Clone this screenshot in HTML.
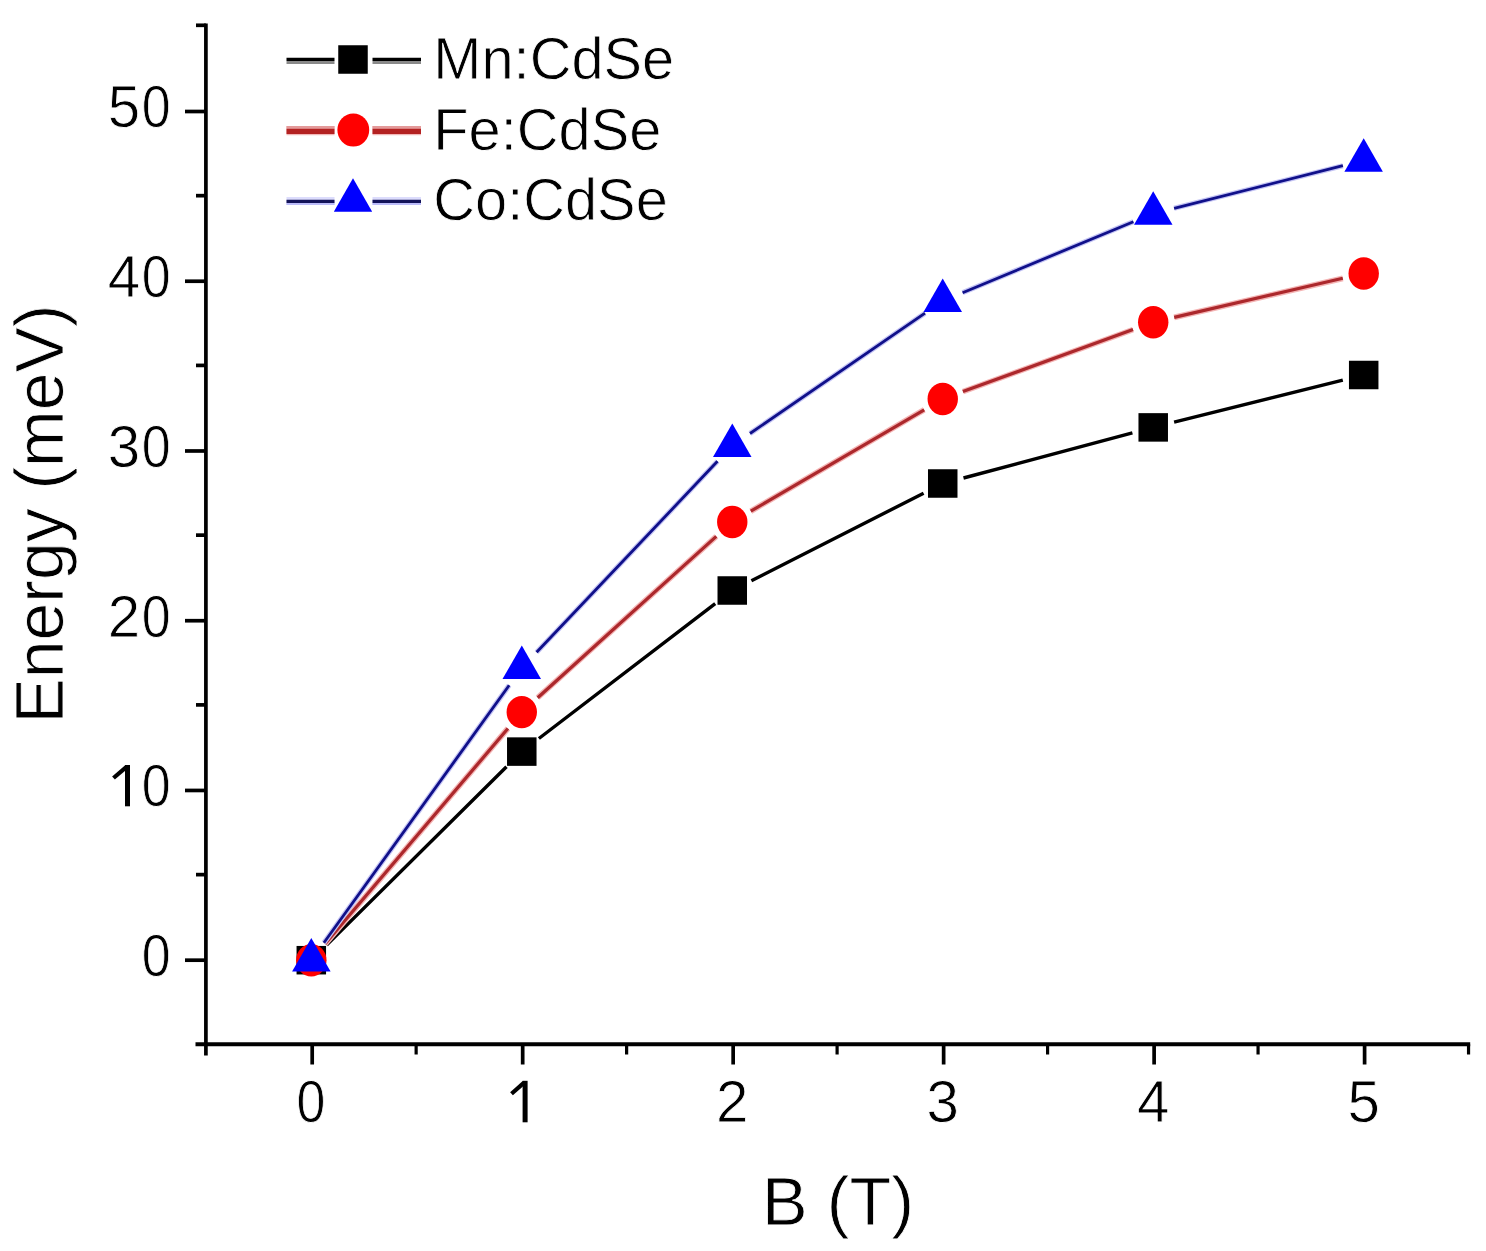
<!DOCTYPE html>
<html><head><meta charset="utf-8"><style>
html,body{margin:0;padding:0;background:#fff;}
svg{display:block;}
</style></head><body>
<svg width="1486" height="1251" viewBox="0 0 1486 1251">
<rect width="1486" height="1251" fill="#fff"/>
<g stroke="#000" stroke-width="3.70" fill="none" stroke-linecap="butt">
<path d="M205.90 23.4 L205.90 1055.5"/>
<path d="M195.5 1044.20 L1470.2 1044.20" stroke-width="4"/>
<path d="M185 960.20 L205.90 960.20"/>
<path d="M185 790.46 L205.90 790.46"/>
<path d="M185 620.72 L205.90 620.72"/>
<path d="M185 450.98 L205.90 450.98"/>
<path d="M185 281.24 L205.90 281.24"/>
<path d="M185 111.50 L205.90 111.50"/>
<path d="M196 874.63 L205.90 874.63"/>
<path d="M196 704.89 L205.90 704.89"/>
<path d="M196 535.15 L205.90 535.15"/>
<path d="M196 365.41 L205.90 365.41"/>
<path d="M196 195.67 L205.90 195.67"/>
<path d="M196 25.30 L205.90 25.30"/>
<path d="M312.20 1044.20 L312.20 1064.5"/>
<path d="M522.68 1044.20 L522.68 1064.5"/>
<path d="M733.16 1044.20 L733.16 1064.5"/>
<path d="M943.64 1044.20 L943.64 1064.5"/>
<path d="M1154.12 1044.20 L1154.12 1064.5"/>
<path d="M1364.60 1044.20 L1364.60 1064.5"/>
<path d="M416.14 1044.20 L416.14 1054.5" stroke-width="3.2"/>
<path d="M626.62 1044.20 L626.62 1054.5" stroke-width="3.2"/>
<path d="M837.10 1044.20 L837.10 1054.5" stroke-width="3.2"/>
<path d="M1047.58 1044.20 L1047.58 1054.5" stroke-width="3.2"/>
<path d="M1258.06 1044.20 L1258.06 1054.5" stroke-width="3.2"/>
<path d="M1468.54 1044.20 L1468.54 1054.5" stroke-width="3.2"/>
</g>
<g fill="none" stroke-linecap="butt">
<path d="M326.6 945.1 L506.5 766.7 M538.9 738.5 L715.2 603.6 M751.4 580.8 L923.6 493.2 M963.5 478.0 L1132.4 432.9 M1174.1 422.2 L1342.8 380.2" stroke="#000" stroke-width="3.4"/>
<path d="M325.2 943.8 L507.9 728.5 M537.7 697.7 L716.3 536.4 M750.8 511.2 L924.2 409.8 M962.9 391.6 L1133.0 329.6 M1174.2 317.4 L1342.8 278.3" stroke="#f4b4b4" stroke-width="5.8"/>
<path d="M325.2 943.8 L507.9 728.5 M537.7 697.7 L716.3 536.4 M750.8 511.2 L924.2 409.8 M962.9 391.6 L1133.0 329.6 M1174.2 317.4 L1342.8 278.3" stroke="#ac282c" stroke-width="3.2"/>
<path d="M323.9 942.8 L509.2 685.3 M536.6 652.3 L717.5 461.3 M750.0 433.5 L925.0 313.1 M962.6 292.7 L1133.4 221.7 M1174.1 208.3 L1342.9 165.7" stroke="#c4c4f4" stroke-width="5.2"/>
<path d="M323.9 942.8 L509.2 685.3 M536.6 652.3 L717.5 461.3 M750.0 433.5 L925.0 313.1 M962.6 292.7 L1133.4 221.7 M1174.1 208.3 L1342.9 165.7" stroke="#10108a" stroke-width="2.8"/>
</g>
<rect x="296.55" y="945.95" width="29.50" height="28.50" fill="#000"/>
<rect x="507.03" y="737.35" width="29.50" height="28.50" fill="#000"/>
<rect x="717.51" y="576.25" width="29.50" height="28.50" fill="#000"/>
<rect x="927.99" y="469.25" width="29.50" height="28.50" fill="#000"/>
<rect x="1138.47" y="413.15" width="29.50" height="28.50" fill="#000"/>
<rect x="1348.95" y="360.75" width="29.50" height="28.50" fill="#000"/>
<ellipse cx="311.30" cy="960.20" rx="15.20" ry="16.20" fill="#f00"/>
<ellipse cx="521.78" cy="712.10" rx="15.20" ry="16.20" fill="#f00"/>
<ellipse cx="732.26" cy="522.00" rx="15.20" ry="16.20" fill="#f00"/>
<ellipse cx="942.74" cy="399.00" rx="15.20" ry="16.20" fill="#f00"/>
<ellipse cx="1153.22" cy="322.20" rx="15.20" ry="16.20" fill="#f00"/>
<ellipse cx="1363.70" cy="273.50" rx="15.20" ry="16.20" fill="#f00"/>
<polygon points="311.3,937.9 292.1,971.4 330.6,971.4" fill="#00f"/>
<polygon points="521.8,645.6 502.5,679.1 541.0,679.1" fill="#00f"/>
<polygon points="732.3,423.4 713.0,456.9 751.5,456.9" fill="#00f"/>
<polygon points="942.7,278.6 923.5,312.1 962.0,312.1" fill="#00f"/>
<polygon points="1153.2,191.2 1134.0,224.7 1172.5,224.7" fill="#00f"/>
<polygon points="1363.7,138.2 1344.4,171.7 1382.9,171.7" fill="#00f"/>
<path d="M286.5 62.50 L334.5 62.50 M372.5 62.50 L421.0 62.50" stroke="#8a8a8a" stroke-width="3.00" fill="none"/>
<path d="M286.5 59.40 L334.5 59.40 M372.5 59.40 L421.0 59.40" stroke="#000" stroke-width="3.30" fill="none"/>
<path d="M286.5 130.60 L334.5 130.60 M372.5 130.60 L421.0 130.60" stroke="#f2b8b8" stroke-width="9.20" fill="none"/>
<path d="M286.5 127.40 L334.5 127.40 M372.5 127.40 L421.0 127.40" stroke="#e49a9a" stroke-width="2.80" fill="none"/>
<path d="M286.5 131.40 L334.5 131.40 M372.5 131.40 L421.0 131.40" stroke="#b42222" stroke-width="5.20" fill="none"/>
<path d="M286.5 201.00 L334.5 201.00 M372.5 201.00 L421.0 201.00" stroke="#dcdcfc" stroke-width="8.00" fill="none"/>
<path d="M286.5 204.00 L334.5 204.00 M372.5 204.00 L421.0 204.00" stroke="#bcbcfa" stroke-width="2.00" fill="none"/>
<path d="M286.5 201.30 L334.5 201.30 M372.5 201.30 L421.0 201.30" stroke="#14145a" stroke-width="3.30" fill="none"/>
<rect x="338.25" y="45.25" width="29.50" height="28.50" fill="#000"/>
<ellipse cx="353.30" cy="130.00" rx="15.90" ry="16.60" fill="#f00"/>
<polygon points="353.0,178.2 333.8,211.7 372.2,211.7" fill="#00f"/>
<g font-family="Liberation Sans, sans-serif" fill="#000" stroke="#fff" stroke-width="0.80">
<text transform="translate(433.30 78.60) scale(1.000 1.035)" font-size="57.80">Mn:CdSe</text>
<text transform="translate(433.30 149.60) scale(1.000 1.035)" font-size="57.80">Fe:CdSe</text>
<text transform="translate(433.30 220.40) scale(1.000 1.035)" font-size="57.80">Co:CdSe</text>
<text transform="translate(156.20 976.00) scale(0.890 1.000)" font-size="58.30" text-anchor="middle">0</text>
<text transform="translate(156.20 806.26) scale(0.890 1.000)" font-size="58.30" text-anchor="middle">0</text>
<rect x="125.0" y="765.0" width="5.0" height="41.3" fill="#000" stroke="none"/><path d="M126.5 766.8 L113.5 778.0" stroke="#000" stroke-width="4.2" fill="none"/>
<text transform="translate(156.20 636.52) scale(0.890 1.000)" font-size="58.30" text-anchor="middle">0</text>
<text x="107.80" y="636.52" font-size="58.30">2</text>
<text transform="translate(156.20 466.78) scale(0.890 1.000)" font-size="58.30" text-anchor="middle">0</text>
<text x="107.80" y="466.78" font-size="58.30">3</text>
<text transform="translate(156.20 297.04) scale(0.890 1.000)" font-size="58.30" text-anchor="middle">0</text>
<text x="107.80" y="297.04" font-size="58.30">4</text>
<text transform="translate(156.20 127.30) scale(0.890 1.000)" font-size="58.30" text-anchor="middle">0</text>
<text x="107.80" y="127.30" font-size="58.30">5</text>
<text transform="translate(311.00 1122.30) scale(0.890 1.000)" font-size="58.30" text-anchor="middle">0</text>
<rect x="522.6" y="1080.8" width="5.0" height="41.5" fill="#000" stroke="none"/><path d="M524.1 1082.6 L511.5 1093.8" stroke="#000" stroke-width="4.2" fill="none"/>
<text x="732.16" y="1122.30" font-size="58.30" text-anchor="middle">2</text>
<text x="942.64" y="1122.30" font-size="58.30" text-anchor="middle">3</text>
<text x="1153.12" y="1122.30" font-size="58.30" text-anchor="middle">4</text>
<text x="1363.60" y="1122.30" font-size="58.30" text-anchor="middle">5</text>
<text transform="translate(838.00 1225.00) scale(1.000 1.010)" font-size="68.40" text-anchor="middle">B (T)</text>
<text transform="translate(63.0 723.5) rotate(-90)" font-size="67.9">Energy (meV)</text>
</g>
</svg>
</body></html>
